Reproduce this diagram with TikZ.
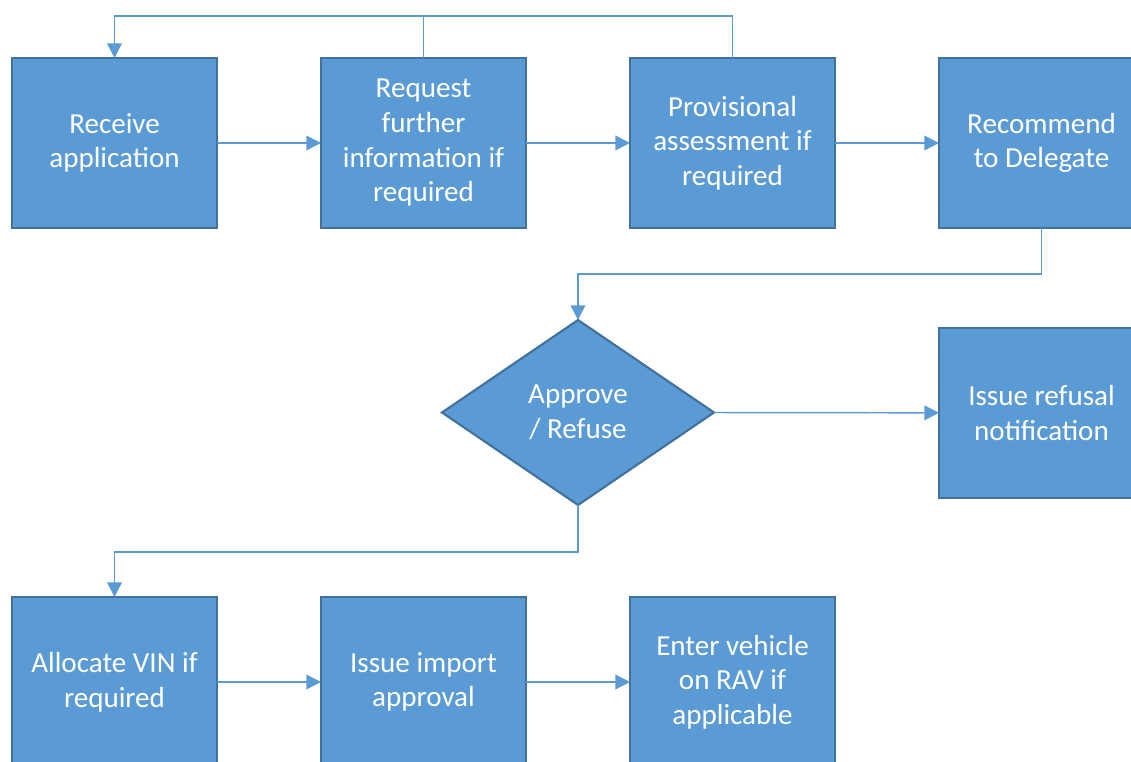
\documentclass[tikz,border=0pt]{standalone}
\usepackage{fontspec}
\setmainfont{Carlito}
\usetikzlibrary{arrows.meta,positioning,shapes.geometric}
\definecolor{boxblue}{HTML}{5B9BD5}
\definecolor{boxedge}{HTML}{41719C}

\begin{document}
\begin{tikzpicture}[x=0.75pt,y=-0.75pt,node distance=78pt,
	stepbox/.style={shape=rectangle,fill=boxblue,draw=boxedge,line width=1.6pt,text=white,align=center,
		minimum width=153.75pt,minimum height=127.5pt,inner sep=0pt,outer sep=0pt,
		font=\fontsize{21.8}{26}\selectfont},
	choice/.style={stepbox,shape=diamond,aspect=1.47,minimum width=204pt,minimum height=138.75pt},
	wire/.style={color=boxblue,line width=1.1pt},
	link/.style={wire,-{Triangle[length=11pt,width=11pt]}}]
	\path[use as bounding box,clip] (0,0) rectangle (1131,762);
	\coordinate (top) at (0,16);
	\coordinate (mid1) at (0,274);
	\coordinate (mid2) at (0,552);

	\node (recv) [stepbox] at (114.5,143) {Receive\\application};
	\node (req) [stepbox,right=of recv] {Request\\further\\information if\\required};
	\node (prov) [stepbox,right=of req] {Provisional\\assessment if\\required};
	\node (rec) [stepbox,right=of prov] {Recommend\\to Delegate};
	\node (refuse) [stepbox,below=75pt of rec] {Issue refusal\\notification};
	\node (decide) [choice] at (578,412.5) {Approve\\/ Refuse};
	\node (vin) [stepbox] at (114.5,682) {Allocate VIN if\\required};
	\node (import) [stepbox,right=of vin] {Issue import\\approval};
	\node (rav) [stepbox,right=of import] {Enter vehicle\\on RAV if\\applicable};

	\draw[link] (recv) -- (req);
	\draw[link] (req) -- (prov);
	\draw[link] (prov) -- (rec);
	\draw[link] (req.north) -- (req.north |- top) -| (recv.north);
	\draw[wire] (prov.north) -- (prov.north |- top) -- (req.north |- top);
	\draw[link] (rec.south) -- (rec.south |- mid1) -| (decide.north);
	\draw[link] (decide.east) -- (refuse);
	\draw[link] (decide.south) -- (decide.south |- mid2) -| (vin.north);
	\draw[link] (vin) -- (import);
	\draw[link] (import) -- (rav);
\end{tikzpicture}
\end{document}
